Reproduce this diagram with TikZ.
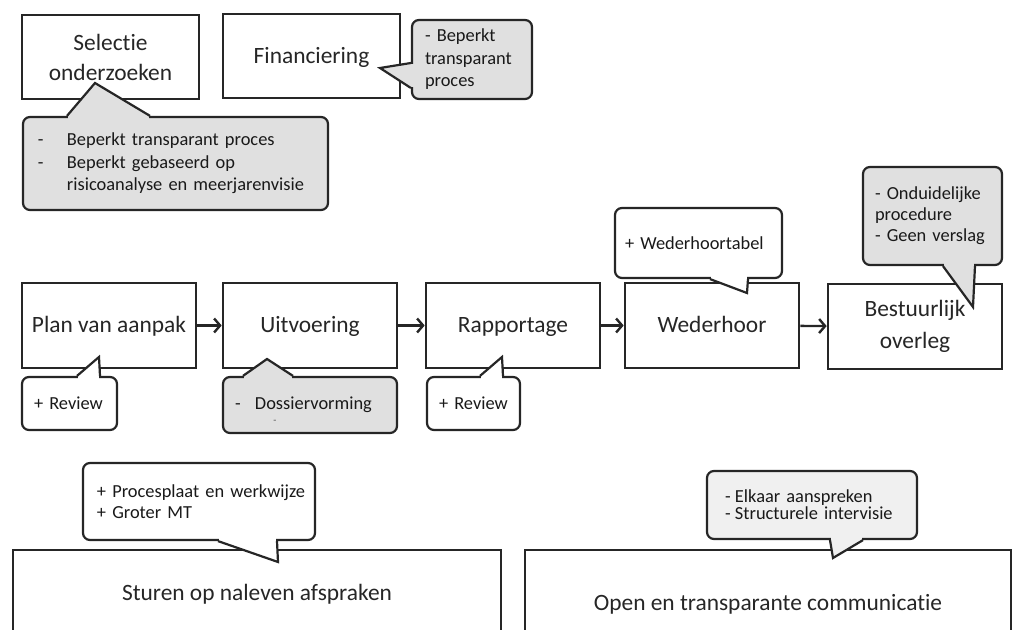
\documentclass[tikz,border=0pt]{standalone}
\usepackage{fontspec}
\setmainfont{Carlito}[Ligatures=NoCommon]
\usetikzlibrary{arrows.meta}

\begin{document}
\begin{tikzpicture}[x=0.5pt, y=-0.5pt,
box/.style = {draw=black!85,
	line width=1.3pt,
	fill=white,
	text=black!85,
	align=center,
	minimum width=87pt,
	minimum height=42.5pt,
	text height=8.5pt,
	text depth=1pt,
	font=\fontsize{11.7}{15}\selectfont},
twoline/.style = {text height=, text depth=},
note/.style = {draw=black!85,
	line width=1.1pt,
	rounded corners=3.5pt,
	text=black!90,
	align=left,
	inner ysep=0pt,
	font=\fontsize{9.2}{11.25}\selectfont},
flow/.style = {-{Straight Barb[length=3pt,width=7pt]},
	line width=1.2pt,
	draw=black!85}]

\useasboundingbox (0,0) rectangle (1014,630);
\clip (0,0) rectangle (1014,630);

% boxes
\node (sel) at (110.5,57) [box, twoline, minimum width=88.5pt, minimum height=42pt] {Selectie\\onderzoeken};
\node (fin) at (311.5,56) [box, minimum width=88.5pt, minimum height=42pt] {Financiering};

\node (plan) at (109,325.5) [box] {Plan van aanpak};
\node (uitv) at (310,325.5) [box] {Uitvoering};
\node (rapp) at (513,325.5) [box] {Rapportage};
\node (weder) at (712,325.5) [box] {Wederhoor};
\node (best) at (915,326.5) [box, twoline, font=\fontsize{11.7}{16}\selectfont] {Bestuurlijk\\overleg};

\node (sturen) at (257,593) [box, minimum width=244pt, minimum height=43pt] {Sturen op naleven afspraken};
\node (open) at (768,603) [box, minimum width=243pt, minimum height=53pt] {Open en transparante communicatie};

\foreach \a/\b in {plan/uitv, uitv/rapp, rapp/weder, weder/best}
	\draw[flow] (\a) -- (\b);

% callouts
\node (nsel) at (175.5,163.5) [note, fill=black!12, text width=137.5pt, inner xsep=7.5pt, minimum height=46.5pt]
	{\makebox[14.5pt][l]{-}Beperkt transparant proces\\
	\makebox[14.5pt][l]{-}Beperkt gebaseerd op\\
	\hspace*{14.5pt}risicoanalyse en meerjarenvisie};
\node (nfin) at (472,59.5) [note, fill=black!12, text width=47pt, inner xsep=6.5pt, minimum height=39.5pt]
	{- Beperkt\\transparant\\proces};
\node (nplan) at (69.5,403.5) [note, fill=white, text width=35.5pt, inner xsep=6pt, minimum height=26.5pt] {+ Review};
\node (nuitv) at (310,405) [note, fill=black!12, text width=75pt, inner xsep=6pt, minimum height=28pt,
	label={[font=\tiny, text=black!70, inner sep=0pt, xshift=-17.5pt, label distance=-7pt]below:-}]
	{\makebox[10pt][l]{-}Dossiervorming};
\node (nrapp) at (473.5,403.5) [note, fill=white, text width=34.5pt, inner xsep=6pt, minimum height=26.5pt] {+ Review};
\node (nweder) at (698.5,243) [note, fill=white, text width=73.5pt, inner xsep=5pt, minimum height=35pt] {+ Wederhoortabel};
\node (nbest) at (932.5,216) [note, fill=black!12, text width=57.5pt, inner xsep=6pt, minimum height=49pt,
	font=\fontsize{9.2}{10.5}\selectfont] {- Onduidelijke\\procedure\\- Geen verslag};
\node (nsturen) at (199,501.5) [note, fill=white, text width=102pt, inner xsep=7pt, minimum height=38.5pt,
	font=\fontsize{9.2}{10.5}\selectfont] {\mbox{+ Procesplaat en werkwijze}\\+ Groter MT};
\node (nopen) at (812,505) [note, fill=black!6, text width=87pt, inner xsep=9pt, minimum height=34pt,
	font=\fontsize{9.2}{8.5}\selectfont] {\makebox[5pt][l]{-}Elkaar aanspreken\\\makebox[5pt][l]{-}Structurele intervisie};

% pointer tips and bases
\coordinate (tsel) at (95,83);
\coordinate (sel1) at (67,0 |- nsel.north);
\coordinate (sel2) at (150,0 |- nsel.north);
\coordinate (tfin) at (380,68);
\coordinate (fin1) at (nfin.west |- 0,63);
\coordinate (fin2) at (nfin.west |- 0,88);
\coordinate (tplan) at (99,357);
\coordinate (plan1) at (77,0 |- nplan.north);
\coordinate (plan2) at (100,0 |- nplan.north);
\coordinate (tuitv) at (267,359);
\coordinate (uitv1) at (243,0 |- nuitv.north);
\coordinate (uitv2) at (293,0 |- nuitv.north);
\coordinate (trapp) at (502,357);
\coordinate (rapp1) at (480,0 |- nrapp.north);
\coordinate (rapp2) at (503,0 |- nrapp.north);
\coordinate (tweder) at (747,293);
\coordinate (weder1) at (710,0 |- nweder.south);
\coordinate (weder2) at (748,0 |- nweder.south);
\coordinate (tbest) at (973,307);
\coordinate (best1) at (943,0 |- nbest.south);
\coordinate (best2) at (975,0 |- nbest.south);
\coordinate (tsturen) at (278,562);
\coordinate (sturen1) at (218,0 |- nsturen.south);
\coordinate (sturen2) at (277,0 |- nsturen.south);
\coordinate (topen) at (833,558);
\coordinate (open1) at (830,0 |- nopen.south);
\coordinate (open2) at (863,0 |- nopen.south);

\foreach \n/\c in {sel/black!12, fin/black!12, plan/white, uitv/black!12, rapp/white,
	weder/white, best/black!12, sturen/white, open/black!6}{
	\fill[fill=\c] (\n1) -- (t\n) -- (\n2) -- cycle;
	\draw[draw=\c, line width=3pt, shorten <=0.7pt, shorten >=0.7pt] (\n1) -- (\n2);
	\draw[draw=black!85, line width=1.1pt] (\n1) -- (t\n) -- (\n2);
}
\end{tikzpicture}
\end{document}
